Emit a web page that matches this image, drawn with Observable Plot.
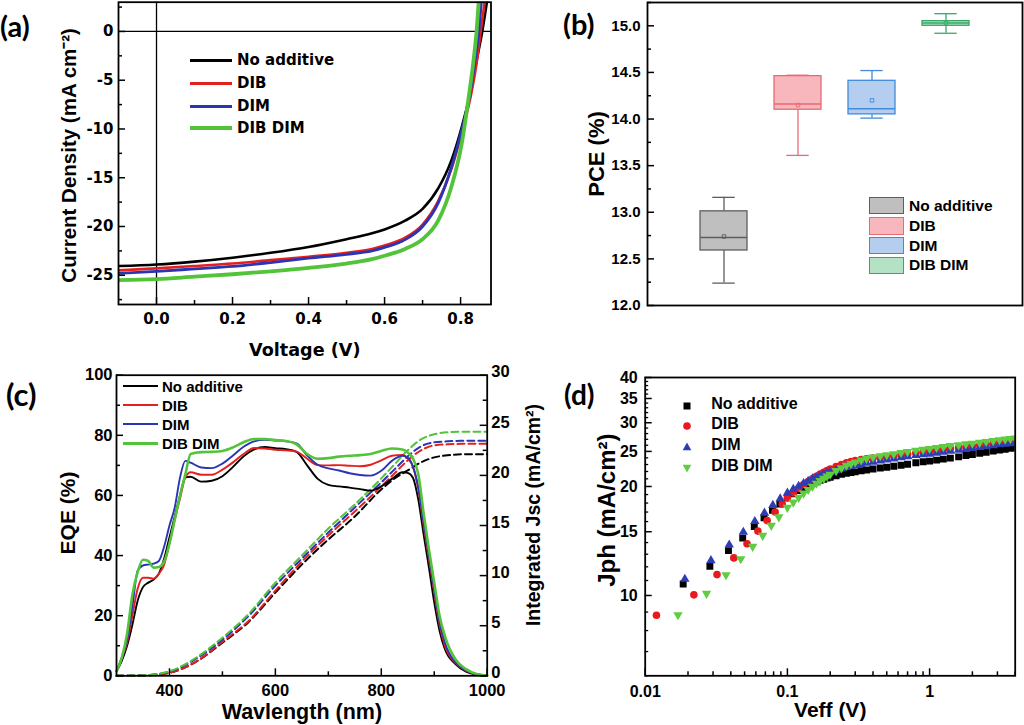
<!DOCTYPE html>
<html>
<head>
<meta charset="utf-8">
<script src="https://cdn.jsdelivr.net/npm/d3@7"></script>
<script src="https://cdn.jsdelivr.net/npm/@observablehq/plot@0.6"></script>
<style>
html,body{margin:0;padding:0;background:#fff;}
#root{position:relative;width:1024px;height:725px;overflow:hidden;background:#fff;}
.plab{position:absolute;font-family:Lato,"Open Sans",sans-serif;font-weight:700;line-height:1;color:#000;}
.lg{position:absolute;font-weight:700;line-height:1;white-space:nowrap;color:#000;transform:translateY(-50%);}
.sw{position:absolute;}
</style>
</head>
<body>
<div id="root"></div>
<script>
// ---------------- shared ----------------
const seriesNames = ["No additive", "DIB", "DIM", "DIB DIM"];
const lineColors = ["#000000", "#e4201f", "#2b35b4", "#52c43a"];

// ---------------- (a) J-V curves ----------------
const jvVoltageNoAdditive = [-0.1, 0, 0.1, 0.2, 0.3, 0.4, 0.5, 0.567, 0.6, 0.654, 0.7, 0.741, 0.776, 0.803, 0.825, 0.842, 0.857, 0.87];
const jvCurrentNoAdditive = [-24.06, -23.9, -23.6, -23.2, -22.7, -22.1, -21.3, -20.7, -20.3, -19.4, -18.2, -16.1, -13.2, -9.8, -6.4, -3.0, 0, 3.2];
const jvVoltageDIB = [-0.1, 0, 0.1, 0.2, 0.3, 0.4, 0.5, 0.567, 0.6, 0.654, 0.7, 0.741, 0.776, 0.803, 0.828, 0.842, 0.853, 0.864];
const jvCurrentDIB = [-24.5, -24.3, -24.05, -23.8, -23.45, -23.1, -22.7, -22.3, -21.95, -21.15, -19.8, -17.4, -14.1, -10.4, -6.4, -3.3, 0, 3.2];
const jvVoltageDIM = [-0.1, 0, 0.1, 0.2, 0.3, 0.4, 0.5, 0.567, 0.6, 0.654, 0.7, 0.741, 0.776, 0.803, 0.825, 0.837, 0.848, 0.855];
const jvCurrentDIM = [-24.8, -24.6, -24.35, -24.1, -23.7, -23.25, -22.85, -22.5, -22.15, -21.35, -20.0, -17.6, -13.9, -10.1, -6.4, -3.3, 0, 3.2];
const jvVoltageDIBDIM = [-0.1, 0, 0.1, 0.2, 0.3, 0.4, 0.5, 0.567, 0.6, 0.654, 0.7, 0.741, 0.776, 0.803, 0.82, 0.833, 0.842, 0.848];
const jvCurrentDIBDIM = [-25.5, -25.4, -25.15, -24.9, -24.6, -24.25, -23.8, -23.35, -23.0, -22.3, -21.3, -19.4, -15.9, -11.5, -7.1, -3.3, 0, 3.2];
const aXTicks = [0, 0.2, 0.4, 0.6, 0.8];
const aXMinor = [0.1, 0.3, 0.5, 0.7];
const aYTicks = [-25, -20, -15, -10, -5, 0];
const aYMinor = [-27.5, -22.5, -17.5, -12.5, -7.5, -2.5, 2.5];

// ---------------- (b) PCE box plot ----------------
const pceMin    = [12.24, 13.61, 14.01, 14.92];
const pceQ1     = [12.59, 14.10, 14.05, 15.00];
const pceMedian = [12.73, 14.16, 14.11, 15.03];
const pceQ3     = [13.01, 14.46, 14.41, 15.05];
const pceMax    = [13.16, 14.47, 14.52, 15.13];
const pceMean   = [12.74, 14.15, 14.20, 15.03];
const boxFills   = ["#bfbfbf", "#f7b7bc", "#b5cdee", "#b4e2c5"];
const boxStrokes = ["#5e5e5e", "#e66b74", "#3f8bdc", "#38a86a"];
const bYTicks = [12, 12.5, 13, 13.5, 14, 14.5, 15];
const bYMinor = [12.25, 12.75, 13.25, 13.75, 14.25, 14.75, 15.25];

// ---------------- (c) EQE + integrated Jsc ----------------
const wavelengths = [300,310,320,330,340,350,360,370,380,390,400,410,420,430,440,460,480,500,520,540,560,580,600,620,640,660,680,700,720,740,760,780,800,820,840,850,860,870,880,890,900,910,920,940,960,980,1000];
const eqeNoAdditive = [1.5,5,10,17,25,29.5,31,32,34,39,46,53,60,66,66.2,64.6,64.9,66.4,69.5,73,75.3,76.1,75.7,75.4,74.5,70,65.5,63.5,63,62.6,62.1,61.6,63,65.5,67.7,67.5,65.8,58.5,47,36,24.4,15,8.9,3.9,1.4,0.4,0.1];
const eqeDIB = [1.5,6,11,20,29,32.6,32.6,32.3,33.9,37,44,52,59,66,67.7,66.9,66.9,68.6,71,73.8,75.8,75.6,75.2,75,74.6,72.2,70.1,70,70.1,69.9,69.7,70.2,71.7,73.2,73.5,72.3,69.5,62,50,39,27.7,17,10,4.3,1.7,0.5,0.1];
const eqeDIM = [1.5,6,12,23,35,36.7,37,37.3,38.2,43,50,56,66,71.5,70.9,69.3,69.1,70.6,73.3,76.2,78,78.5,78.3,78,77.3,73.3,70.2,69,68.3,67.4,66.8,66.6,68.2,71.5,73.2,72.5,69.5,62.5,51,40,28.8,18,11.1,4.5,1.8,0.5,0.1];
const eqeDIBDIM = [1.5,6,14,27,34.5,38.6,38.2,36,36.2,38,44,52,60,67,73.8,74.4,74.5,74.8,76,77.7,78.8,78.8,78.4,78.1,77,73.8,72.2,72.4,72.9,73.2,73.4,73.8,74.8,75.6,75.3,74.3,72.2,67,54,42,31,20,13.3,5.5,2.2,0.6,0.1];
const jscWavelengths = [300,350,400,450,500,550,600,650,700,750,800,825,850,875,900,925,950,1000];
const jscNoAdditive = [0,0.03,0.3,1.4,3.3,5.4,8.3,11.1,13.6,15.9,18.6,19.7,20.5,21.3,21.8,22.0,22.1,22.1];
const jscDIB = [0,0.03,0.3,1.4,3.4,5.5,8.5,11.4,14.0,16.4,18.9,20.2,21.5,22.5,23.0,23.1,23.15,23.15];
const jscDIM = [0,0.05,0.4,1.7,3.6,6.0,9.0,11.7,14.3,16.8,19.3,20.6,21.9,22.9,23.3,23.4,23.45,23.45];
const jscDIBDIM = [0,0.05,0.45,1.8,3.8,6.2,9.3,12.0,14.7,17.1,19.7,21.1,22.5,23.6,24.1,24.3,24.35,24.35];
const cXTicks = [400, 600, 800, 1000];
const cXMinor = [500, 700, 900];
const cYTicks = [0, 20, 40, 60, 80, 100];
const cYMinor = [10, 30, 50, 70, 90];
const cJscTicks = [0, 5, 10, 15, 20, 25, 30];
const cJscMinor = [2.5, 7.5, 12.5, 17.5, 22.5, 27.5];
const jscMax = 30, eqeMax = 100;

// ---------------- (d) Jph vs Veff ----------------
const veffLowNoAdditive = [0.0185,0.0285,0.0385,0.0485,0.0585,0.0685,0.0785,0.0885];
const jphLowNoAdditive  = [10.76,12.04,13.3,14.4,15.5,16.4,17.2,17.9];
const veffLowDIB = [0.012,0.022,0.032,0.042,0.052,0.062,0.072,0.082,0.092];
const jphLowDIB  = [8.82,10.04,11.42,12.7,13.9,15.06,16.1,17.0,17.9];
const veffLowDIM = [0.019,0.029,0.039,0.049,0.059,0.069,0.079,0.089];
const jphLowDIM  = [11.1,12.49,13.8,14.96,16.02,16.9,17.75,18.5];
const veffLowDIBDIM = [0.017,0.027,0.037,0.047,0.057,0.067,0.077,0.087];
const jphLowDIBDIM  = [8.84,10.13,11.4,12.62,13.65,14.65,15.6,16.47];
const veffHigh = [0.1,0.11,0.12,0.13,0.14,0.15,0.16,0.17,0.18,0.19,0.2,0.22,0.24,0.26,0.28,0.3,0.33,0.36,0.4,0.45,0.5,0.56,0.63,0.7,0.8,0.9,1.0,1.12,1.25,1.4,1.6,1.8,2.0,2.25,2.5,2.8,3.1,3.4,3.7,4.0];
const jphHighNoAdditive = [18.6,19.1,19.5,19.85,20.15,20.4,20.6,20.8,20.95,21.1,21.2,21.4,21.6,21.75,21.85,21.95,22.1,22.2,22.35,22.5,22.6,22.75,22.9,23.05,23.25,23.4,23.5,23.65,23.8,23.95,24.15,24.35,24.5,24.7,24.85,25.05,25.2,25.35,25.5,25.6];
const jphHighDIB = [18.6,19.2,19.75,20.25,20.65,21.0,21.35,21.65,21.9,22.15,22.35,22.7,23.0,23.25,23.45,23.6,23.75,23.85,23.95,24.05,24.15,24.3,24.45,24.6,24.75,24.9,25.0,25.15,25.3,25.45,25.6,25.75,25.85,26.0,26.15,26.3,26.45,26.55,26.65,26.75];
const jphHighDIM = [19.2,19.65,20.05,20.4,20.7,21.0,21.2,21.4,21.6,21.75,21.9,22.15,22.4,22.6,22.75,22.9,23.05,23.2,23.35,23.55,23.7,23.85,24.05,24.2,24.4,24.5,24.6,24.75,24.9,25.05,25.2,25.35,25.5,25.65,25.8,25.95,26.1,26.2,26.3,26.4];
const jphHighDIBDIM = [17.5,18.1,18.65,19.15,19.6,20.0,20.4,20.75,21.05,21.35,21.6,22.1,22.5,22.85,23.1,23.35,23.65,23.9,24.1,24.3,24.45,24.6,24.8,24.95,25.15,25.3,25.45,25.6,25.75,25.9,26.05,26.2,26.3,26.45,26.6,26.75,26.9,27.0,27.1,27.2];
const dotColors = ["#000000", "#e8191f", "#2e3db6", "#5fcc41"];
const dXTicks = [0.01, 0.1, 1];
const dXMinor = [0.02,0.03,0.04,0.05,0.06,0.07,0.08,0.09,0.2,0.3,0.4,0.5,0.6,0.7,0.8,0.9,2,3,4];
const dYTicks = [10, 15, 20, 25, 30, 35, 40];
const dYMinor = [6,7,8,9,11,12,13,14,16,17,18,19,21,22,23,24,26,27,28,29,31,32,33,34,36,37,38,39];

// ---------------- helpers ----------------
const root = document.getElementById("root");
const zipRows = (xs, ys) => xs.map((x, i) => ({x, y: ys[i]}));
function place(svg, left, top) {
  svg.style.position = "absolute";
  svg.style.left = left + "px";
  svg.style.top = top + "px";
  root.appendChild(svg);
}
function tB(vals, len, innerH, sw = 1.5) { return Plot.tickX(vals, {x: d => d, insetTop: innerH - len, stroke: "#000", strokeWidth: sw}); }
function tL(vals, len, innerW, sw = 1.5) { return Plot.tickY(vals, {y: d => d, insetRight: innerW - len, stroke: "#000", strokeWidth: sw}); }
function tR(vals, len, innerW, sw = 1.5) { return Plot.tickY(vals, {y: d => d, insetLeft: innerW - len, stroke: "#000", strokeWidth: sw}); }
function title(txt, opts) {
  return Plot.text([txt], {text: d => d, textAnchor: "middle", lineAnchor: "middle", fontWeight: "bold", ...opts});
}
function addText(txt, left, top, cls, css) {
  const d = document.createElement("div");
  d.className = cls; d.textContent = txt;
  d.style.left = left + "px"; d.style.top = top + "px";
  Object.assign(d.style, css || {});
  root.appendChild(d);
  return d;
}
function addSwatch(html, left, top, w, h) {
  const d = document.createElement("div");
  d.className = "sw";
  d.style.left = left + "px"; d.style.top = top + "px";
  d.style.width = w + "px"; d.style.height = h + "px";
  d.innerHTML = html;
  root.appendChild(d);
}

// ---------------- panel (a) ----------------
{
  const W = 512, H = 362, mL = 118, mR = 21.5, mT = 1.7, mB = 58;
  const iW = W - mL - mR, iH = H - mT - mB;
  const jv = [
    zipRows(jvVoltageNoAdditive, jvCurrentNoAdditive),
    zipRows(jvVoltageDIB, jvCurrentDIB),
    zipRows(jvVoltageDIM, jvCurrentDIM),
    zipRows(jvVoltageDIBDIM, jvCurrentDIBDIM)
  ];
  const widths = [2.6, 2.6, 2.8, 3.8];
  const svg = Plot.plot({
    width: W, height: H, marginLeft: mL, marginRight: mR, marginTop: mT, marginBottom: mB,
    x: {domain: [-0.1, 0.88]}, y: {domain: [-28, 3]},
    style: {fontFamily: "DejaVu Sans", fontSize: "15px", fontWeight: "bold", background: "transparent", color: "#000"},
    marks: [
      Plot.ruleX([0], {stroke: "#000", strokeWidth: 1.3}),
      Plot.ruleY([0], {stroke: "#000", strokeWidth: 1.3}),
      ...jv.map((rows, i) => Plot.line(rows, {x: "x", y: "y", stroke: lineColors[i], strokeWidth: widths[i], curve: "monotone-x", clip: true})),
      Plot.frame({stroke: "#000", strokeWidth: 1.8}),
      tB(aXTicks, 7, iH), tB(aXMinor, 4, iH),
      tL(aYTicks, 7, iW), tL(aYMinor, 4, iW),
      Plot.axisX(aXTicks, {tickSize: 0, tickPadding: 9, tickFormat: d3.format(".1f"), label: null}),
      Plot.axisY(aYTicks, {tickSize: 0, tickPadding: 5, tickFormat: d => String(d), label: null}),
      title("Voltage (V)", {frameAnchor: "bottom", dy: 46, fontSize: 17.6, fontFamily: "DejaVu Sans"}),
      title("Current Density (mA cm\u207B\u00B2)", {frameAnchor: "left", rotate: -90, dx: -49, dy: 2, fontSize: 20.5, fontFamily: "Liberation Sans"})
    ]
  });
  place(svg, 0, 0);
  const rows = [60, 83, 106, 128];
  seriesNames.forEach((n, i) => {
    addSwatch(`<div style="position:absolute;left:0;top:${6 - widths[i] / 2}px;width:42px;height:${widths[i] + 0.6}px;background:${lineColors[i]}"></div>`, 190, rows[i] - 6, 42, 12);
    addText(n, 237, rows[i], "lg", {fontFamily: "DejaVu Sans", fontSize: "15px"});
  });
  addText("(a)", 0, 11, "plab", {fontSize: "29px"});
}

// ---------------- panel (b) ----------------
{
  const W = 512, H = 362, mL = 135, mR = 2, mT = 2, mB = 57;
  const iW = W - mL - mR, iH = H - mT - mB;
  const boxes = seriesNames.map((c, i) => ({cat: c, min: pceMin[i], q1: pceQ1[i], med: pceMedian[i], q3: pceQ3[i], max: pceMax[i], mean: pceMean[i]}));
  const marks = [];
  boxes.forEach((b, i) => {
    const s = boxStrokes[i];
    marks.push(
      Plot.ruleX([b], {x: "cat", y1: "min", y2: "q1", stroke: s, strokeWidth: 1.3}),
      Plot.ruleX([b], {x: "cat", y1: "q3", y2: "max", stroke: s, strokeWidth: 1.3}),
      Plot.tickY([b], {x: "cat", y: "min", stroke: s, strokeWidth: 1.3, insetLeft: 12.3, insetRight: 12.3}),
      Plot.tickY([b], {x: "cat", y: "max", stroke: s, strokeWidth: 1.3, insetLeft: 12.3, insetRight: 12.3}),
      Plot.barY([b], {x: "cat", y1: "q1", y2: "q3", fill: boxFills[i], stroke: s, strokeWidth: 1.3}),
      Plot.tickY([b], {x: "cat", y: "med", stroke: s, strokeWidth: 1.5}),
      Plot.dot([b], {x: "cat", y: "mean", symbol: "square", r: 2, stroke: s, strokeWidth: 0.9, fill: "none"})
    );
  });
  const svg = Plot.plot({
    width: W, height: H, marginLeft: mL, marginRight: mR, marginTop: mT, marginBottom: mB,
    x: {type: "band", domain: seriesNames, paddingInner: 0.362, paddingOuter: 0.6875, axis: null},
    y: {domain: [12, 15.25]},
    style: {fontFamily: "Liberation Sans", fontSize: "15px", fontWeight: "bold", background: "transparent", color: "#000"},
    marks: [
      ...marks,
      Plot.frame({stroke: "#000", strokeWidth: 1.8}),
      tL(bYTicks, 7, iW), tL(bYMinor, 4, iW),
      Plot.axisY(bYTicks, {tickSize: 0, tickPadding: 7, tickFormat: d3.format(".1f"), label: null}),
      title("PCE (%)", {frameAnchor: "left", rotate: -90, dx: -51, fontSize: 22, fontFamily: "Liberation Sans"})
    ]
  });
  place(svg, 512, 0);
  const rows = [205.7, 226, 245.7, 265.3];
  seriesNames.forEach((n, i) => {
    addSwatch(`<div style="position:absolute;left:0;top:0;width:33px;height:15.5px;background:${boxFills[i]};border:1.2px solid ${boxStrokes[i]}"></div>`, 868.7, rows[i] - 8.8, 36, 18);
    addText(n, 909, rows[i], "lg", {fontFamily: "Liberation Sans", fontSize: "15.5px"});
  });
  addText("(b)", 563, 9, "plab", {fontSize: "29px"});
}

// ---------------- panel (c) ----------------
{
  const W = 550, H = 363, mL = 116, mR = 63.3, mT = 12.7, mB = 49.7;
  const iW = W - mL - mR, iH = H - mT - mB;
  const eqe = [eqeNoAdditive, eqeDIB, eqeDIM, eqeDIBDIM].map(v => zipRows(wavelengths, v));
  const jsc = [jscNoAdditive, jscDIB, jscDIM, jscDIBDIM].map(v => zipRows(jscWavelengths, v));
  const toLeft = v => v * eqeMax / jscMax;
  const widths = [1.9, 1.9, 1.9, 2.6];
  const svg = Plot.plot({
    width: W, height: H, marginLeft: mL, marginRight: mR, marginTop: mT, marginBottom: mB,
    x: {domain: [300, 1000]}, y: {domain: [0, eqeMax]},
    style: {fontFamily: "Liberation Sans", fontSize: "16.5px", fontWeight: "bold", background: "transparent", color: "#000"},
    marks: [
      ...jsc.map((rows, i) => Plot.line(rows, {x: "x", y: d => toLeft(d.y), stroke: lineColors[i], strokeWidth: 2, strokeDasharray: "7,4", curve: "monotone-x"})),
      ...eqe.map((rows, i) => Plot.line(rows, {x: "x", y: "y", stroke: lineColors[i], strokeWidth: widths[i], curve: "monotone-x"})),
      Plot.frame({stroke: "#000", strokeWidth: 1.8}),
      tB(cXTicks, 7, iH), tB(cXMinor, 4, iH),
      tL(cYTicks, 7, iW), tL(cYMinor, 4, iW),
      tR(cJscTicks.map(toLeft), 7, iW), tR(cJscMinor.map(toLeft), 4, iW),
      Plot.axisX(cXTicks, {tickSize: 0, tickPadding: 8.5, tickFormat: d => String(d), label: null}),
      Plot.axisY(cYTicks, {anchor: "left", tickSize: 0, tickPadding: 4, tickFormat: d => String(d), label: null}),
      Plot.axisY(cJscTicks.map(toLeft), {anchor: "right", tickSize: 0, tickPadding: 4, dy: -3, tickFormat: d => String(Math.round(d * jscMax / eqeMax)), label: null}),
      title("Wavlength (nm)", {frameAnchor: "bottom", dy: 36.5, fontSize: 21.5, fontFamily: "Liberation Sans"}),
      title("EQE (%)", {frameAnchor: "left", rotate: -90, dx: -48.5, dy: -12.5, fontSize: 21, fontFamily: "Liberation Sans"}),
      title("Integrated Jsc (mA/cm\u00B2)", {frameAnchor: "right", rotate: -90, dx: 46.3, dy: -10.5, fontSize: 19.5, fontFamily: "Liberation Sans"})
    ]
  });
  place(svg, 0, 362);
  const rows = [386, 405, 424, 443];
  seriesNames.forEach((n, i) => {
    addSwatch(`<div style="position:absolute;left:0;top:${6 - widths[i] / 2}px;width:35px;height:${widths[i] + 0.4}px;background:${lineColors[i]}"></div>`, 123, rows[i] - 6, 35, 12);
    addText(n, 162, rows[i], "lg", {fontFamily: "Liberation Sans", fontSize: "15px"});
  });
  addText("(c)", 6, 379, "plab", {fontSize: "31px"});
}

// ---------------- panel (d) ----------------
{
  const W = 474, H = 363, mL = 94.7, mR = 9.3, mT = 15, mB = 49.7;
  const iW = W - mL - mR, iH = H - mT - mB;
  const series = [
    zipRows(veffLowNoAdditive.concat(veffHigh), jphLowNoAdditive.concat(jphHighNoAdditive)),
    zipRows(veffLowDIB.concat(veffHigh), jphLowDIB.concat(jphHighDIB)),
    zipRows(veffLowDIM.concat(veffHigh), jphLowDIM.concat(jphHighDIM)),
    zipRows(veffLowDIBDIM.concat(veffHigh), jphLowDIBDIM.concat(jphHighDIBDIM))
  ];
  const sym = [
    {symbol: "square", r: 3.9, rotate: 0},
    {symbol: "circle", r: 3.8, rotate: 0},
    {symbol: "triangle", r: 3.5, rotate: 0},
    {symbol: "triangle", r: 3.5, rotate: 180}
  ];
  const svg = Plot.plot({
    width: W, height: H, marginLeft: mL, marginRight: mR, marginTop: mT, marginBottom: mB,
    x: {type: "log", domain: [0.01, 4]}, y: {type: "log", domain: [6, 40]},
    style: {fontFamily: "Liberation Sans", fontSize: "16px", fontWeight: "bold", background: "transparent", color: "#000"},
    marks: [
      ...series.map((rows, i) => Plot.dot(rows, {x: "x", y: "y", symbol: sym[i].symbol, r: sym[i].r, rotate: sym[i].rotate, fill: dotColors[i], stroke: "none", clip: true})),
      Plot.frame({stroke: "#000", strokeWidth: 1.8}),
      tB(dXTicks, 7, iH), tB(dXMinor, 4, iH),
      tL(dYTicks, 7, iW), tL(dYMinor, 3.5, iW, 1.3),
      Plot.axisX(dXTicks, {tickSize: 0, tickPadding: 10, tickFormat: d => String(d), label: null}),
      Plot.axisY(dYTicks, {tickSize: 0, tickPadding: 7.5, tickFormat: d => String(d), label: null}),
      title("Veff (V)", {frameAnchor: "bottom", dy: 34.7, fontSize: 21, fontFamily: "Liberation Sans"}),
      title("Jph (mA/cm\u00B2)", {frameAnchor: "left", rotate: -90, dx: -37.7, dy: -16.5, fontSize: 24, fontFamily: "Liberation Sans"})
    ]
  });
  place(svg, 550, 362);
  const rows = [403.7, 424.3, 445.3, 466];
  const shapes = [
    `<rect x="2.5" y="2.5" width="7" height="7" fill="${dotColors[0]}"/>`,
    `<circle cx="6" cy="6" r="3.8" fill="${dotColors[1]}"/>`,
    `<path d="M6,1.6 L10.3,9.2 L1.7,9.2 Z" fill="${dotColors[2]}"/>`,
    `<path d="M6,10.4 L10.3,2.8 L1.7,2.8 Z" fill="${dotColors[3]}"/>`
  ];
  seriesNames.forEach((n, i) => {
    addSwatch(`<svg width="12" height="12">${shapes[i]}</svg>`, 681, rows[i] - 6, 12, 12);
    addText(n, 711.3, rows[i], "lg", {fontFamily: "Liberation Sans", fontSize: "16px"});
  });
  addText("(d)", 564, 380, "plab", {fontSize: "28px"});
}
</script>
</body>
</html>
